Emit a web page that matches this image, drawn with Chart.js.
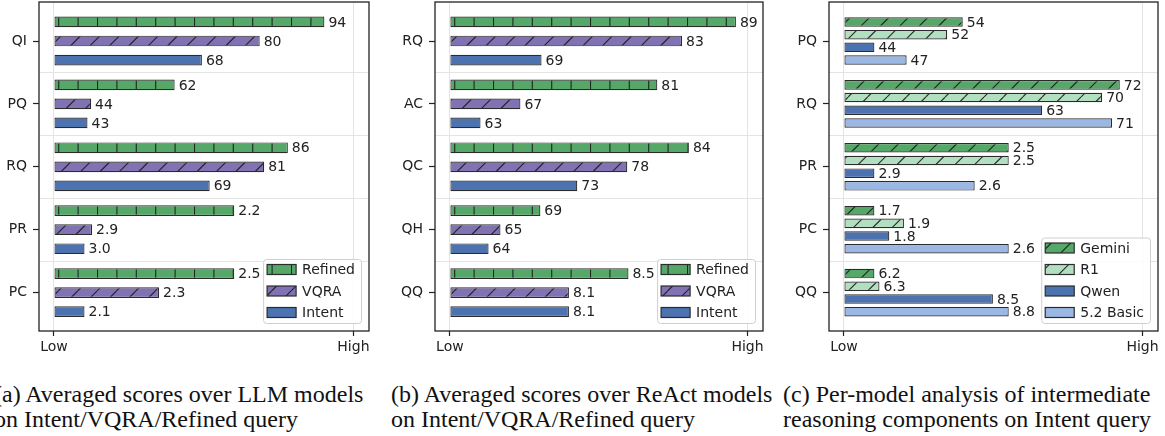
<!DOCTYPE html>
<html>
<head>
<meta charset="utf-8">
<script src="https://cdn.jsdelivr.net/npm/chart.js@4/dist/chart.umd.min.js"></script>
<style>
  body { margin: 0; background: #fff; width: 1165px; height: 436px; overflow: hidden; position: relative; }
  canvas { position: absolute; top: 0; }
  .cap { position: absolute; top: 382px; font-family: "Liberation Serif", serif; font-size: 24px; line-height: 25px; color: #111; white-space: nowrap; }
</style>
</head>
<body>
<canvas id="panel-a" width="376" height="360" style="left:0px"></canvas>
<canvas id="panel-b" width="374" height="360" style="left:396px"></canvas>
<canvas id="panel-c" width="375" height="360" style="left:790px"></canvas>
<div class="cap" style="left:-6px">(a) Averaged scores over LLM models<br>on Intent/VQRA/Refined query</div>
<div class="cap" style="left:391px">(b) Averaged scores over ReAct models<br>on Intent/VQRA/Refined query</div>
<div class="cap" style="left:783px">(c) Per-model analysis of intermediate<br>reasoning components on Intent query</div>
<script>
"use strict";

// bar lengths are relative (Low = 0, High = 1), texts are the printed scores
const aCategories = ["QI", "PQ", "RQ", "PR", "PC"];
const aRefined = [0.903, 0.403, 0.781, 0.602, 0.602];
const aVqra = [0.687, 0.124, 0.702, 0.127, 0.351];
const aIntent = [0.494, 0.112, 0.520, 0.102, 0.102];
const aRefinedText = ["94", "62", "86", "2.2", "2.5"];
const aVqraText = ["80", "44", "81", "2.9", "2.3"];
const aIntentText = ["68", "43", "69", "3.0", "2.1"];

const bCategories = ["RQ", "AC", "QC", "QH", "QQ"];
const bRefined = [0.961, 0.697, 0.803, 0.304, 0.600];
const bVqra = [0.780, 0.237, 0.596, 0.170, 0.400];
const bIntent = [0.308, 0.103, 0.428, 0.130, 0.400];
const bRefinedText = ["89", "81", "84", "69", "8.5"];
const bVqraText = ["83", "67", "78", "65", "8.1"];
const bIntentText = ["69", "63", "73", "64", "8.1"];

const cCategories = ["PQ", "RQ", "PR", "PC", "QQ"];
const cGemini = [0.398, 0.924, 0.552, 0.102, 0.102];
const cR1 = [0.346, 0.865, 0.552, 0.201, 0.119];
const cQwen = [0.102, 0.664, 0.102, 0.152, 0.499];
const cBasic = [0.210, 0.898, 0.438, 0.552, 0.552];
const cGeminiText = ["54", "72", "2.5", "1.7", "6.2"];
const cR1Text = ["52", "70", "2.5", "1.9", "6.3"];
const cQwenText = ["44", "63", "2.9", "1.8", "8.5"];
const cBasicText = ["47", "71", "2.6", "2.6", "8.8"];

const xTickLabels = ["Low", "High"];

const FONT = '"DejaVu Sans", sans-serif';
const GREEN = "#55a868", PURPLE = "#8172b3", BLUE = "#4c72b0";
const LIGHT_GREEN = "#b3dfc1", LIGHT_BLUE = "#9bb7e3";

function hatch(color, kind) {
    const size = 97, step = size / 5;
    const c = document.createElement("canvas");
    c.width = size; c.height = size;
    const g = c.getContext("2d");
    g.fillStyle = color;
    g.fillRect(0, 0, size, size);
    if (kind) {
        g.strokeStyle = "rgba(25,25,25,0.9)";
        g.lineWidth = 1.1;
        g.beginPath();
        if (kind === "|") {
            for (let i = 0; i < 5; i++) {
                g.moveTo(i * step + 0.5, 0);
                g.lineTo(i * step + 0.5, size);
            }
        } else {
            for (let k = -1; k <= 11; k++) {
                g.moveTo(k * step, 0);
                g.lineTo(k * step - size, size);
            }
        }
        g.stroke();
    }
    return g.createPattern(c, "repeat");
}

const framePlugin = {
    id: "frame",
    afterDraw(chart) {
        const a = chart.chartArea, ctx = chart.ctx;
        ctx.save();
        ctx.strokeStyle = "#222";
        ctx.lineWidth = 1.3;
        ctx.strokeRect(a.left, a.top, a.right - a.left, a.bottom - a.top);
        ctx.restore();
    }
};

const barTextPlugin = {
    id: "barText",
    afterDatasetsDraw(chart, args, opts) {
        const ctx = chart.ctx;
        ctx.save();
        ctx.font = "14px " + FONT;
        ctx.fillStyle = "#222";
        ctx.textAlign = "left";
        ctx.textBaseline = "middle";
        chart.data.datasets.forEach((ds, i) => {
            chart.getDatasetMeta(i).data.forEach((bar, j) => {
                ctx.fillText(opts.texts[i][j], bar.x + 4, bar.y + 1);
            });
        });
        ctx.restore();
    }
};

const boxLegendPlugin = {
    id: "boxLegend",
    afterDraw(chart) {
        const ctx = chart.ctx, a = chart.chartArea;
        const sets = chart.data.datasets;
        ctx.save();
        ctx.font = "14px " + FONT;
        let textW = Math.max(...sets.map(ds => ctx.measureText(ds.label).width));
        const rowH = 21.5;
        const w = 4 + 29 + 6 + textW + 6;
        const h = 21 + (sets.length - 1) * rowH;
        const x = a.right - 8 - w, y = a.bottom - 8 - h;
        ctx.fillStyle = "rgba(255,255,255,0.85)";
        ctx.strokeStyle = "#cfcfcf";
        ctx.lineWidth = 1;
        ctx.beginPath();
        ctx.roundRect(x + 0.5, y + 0.5, w, h, 3);
        ctx.fill();
        ctx.stroke();
        sets.forEach((ds, i) => {
            const cy = y + 10.5 + i * rowH;
            ctx.fillStyle = ds.backgroundColor;
            ctx.fillRect(x + 4, cy - 5, 29, 10);
            ctx.strokeStyle = "#2b2b2b";
            ctx.lineWidth = 1.2;
            ctx.strokeRect(x + 4, cy - 5, 29, 10);
            ctx.fillStyle = "#222";
            ctx.textBaseline = "middle";
            ctx.fillText(ds.label, x + 39, cy + 1);
        });
        ctx.restore();
    }
};

function noPadding(axis) {
    axis.paddingTop = 0;
    axis.paddingBottom = 0;
    axis.paddingLeft = 0;
    axis.paddingRight = 0;
}

function makePanel(id, categories, series, catPct, barPct) {
    const datasets = series.map(s => ({
        label: s.label,
        data: s.values.map((v, i) => ({ x: v, y: i })),
        backgroundColor: hatch(s.color, s.hatch),
        borderColor: "#2b2b2b",
        borderWidth: 1.2,
        borderSkipped: false,
        categoryPercentage: catPct,
        barPercentage: barPct
    }));
    const yMin = -0.62, yMax = categories.length - 1 + 0.61;
    const catTicks = categories.map((c, i) => ({ value: i }));
    const sepTicks = categories.slice(1).map((c, i) => ({ value: i + 0.5 }));

    return new Chart(document.getElementById(id), {
        type: "bar",
        data: { datasets: datasets },
        options: {
            indexAxis: "y",
            responsive: false,
            animation: false,
            events: [],
            layout: { padding: { top: 2, right: 7, bottom: 0, left: 0 } },
            scales: {
                x: {
                    type: "linear",
                    min: -0.05,
                    max: 1.052,
                    afterBuildTicks: axis => { axis.ticks = [{ value: 0 }, { value: 1 }]; },
                    afterFit: axis => { axis.height = 29; noPadding(axis); },
                    border: { display: false },
                    grid: { color: "#e4e4e4", tickColor: "#222", tickLength: 5, tickWidth: 1.2 },
                    ticks: {
                        autoSkip: false,
                        maxRotation: 0,
                        padding: 3,
                        color: "#222",
                        font: { family: FONT, size: 14 },
                        callback: v => xTickLabels[v === 0 ? 0 : 1]
                    }
                },
                y: {
                    type: "linear",
                    reverse: true,
                    offset: false,
                    min: yMin,
                    max: yMax,
                    afterBuildTicks: axis => { axis.ticks = catTicks.map(t => ({ value: t.value })); },
                    afterFit: axis => { axis.width = 39; noPadding(axis); },
                    border: { display: false },
                    grid: { offset: false, drawOnChartArea: false, tickColor: "#222", tickLength: 6, tickWidth: 1.2 },
                    ticks: {
                        autoSkip: false,
                        padding: 6,
                        color: "#222",
                        font: { family: FONT, size: 14 },
                        callback: v => categories[v]
                    }
                },
                ySep: {
                    type: "linear",
                    position: "left",
                    reverse: true,
                    offset: false,
                    min: yMin,
                    max: yMax,
                    afterBuildTicks: axis => { axis.ticks = sepTicks.map(t => ({ value: t.value })); },
                    afterFit: axis => { axis.width = 0; noPadding(axis); },
                    border: { display: false },
                    grid: { offset: false, color: "#e4e4e4", drawTicks: false, tickLength: 0 },
                    ticks: { display: false }
                }
            },
            plugins: {
                legend: { display: false },
                tooltip: { enabled: false },
                barText: { texts: series.map(s => s.texts) }
            }
        },
        plugins: [barTextPlugin, framePlugin, boxLegendPlugin]
    });
}

makePanel("panel-a", aCategories, [
    { label: "Refined", values: aRefined, texts: aRefinedText, color: GREEN, hatch: "|" },
    { label: "VQRA", values: aVqra, texts: aVqraText, color: PURPLE, hatch: "/" },
    { label: "Intent", values: aIntent, texts: aIntentText, color: BLUE, hatch: null }
], 0.908, 0.563);

makePanel("panel-b", bCategories, [
    { label: "Refined", values: bRefined, texts: bRefinedText, color: GREEN, hatch: "|" },
    { label: "VQRA", values: bVqra, texts: bVqraText, color: PURPLE, hatch: "/" },
    { label: "Intent", values: bIntent, texts: bIntentText, color: BLUE, hatch: null }
], 0.908, 0.563);

makePanel("panel-c", cCategories, [
    { label: "Gemini", values: cGemini, texts: cGeminiText, color: GREEN, hatch: "/" },
    { label: "R1", values: cR1, texts: cR1Text, color: LIGHT_GREEN, hatch: "/" },
    { label: "Qwen", values: cQwen, texts: cQwenText, color: BLUE, hatch: null },
    { label: "5.2 Basic", values: cBasic, texts: cBasicText, color: LIGHT_BLUE, hatch: null }
], 0.807, 0.75);
</script>
</body>
</html>
